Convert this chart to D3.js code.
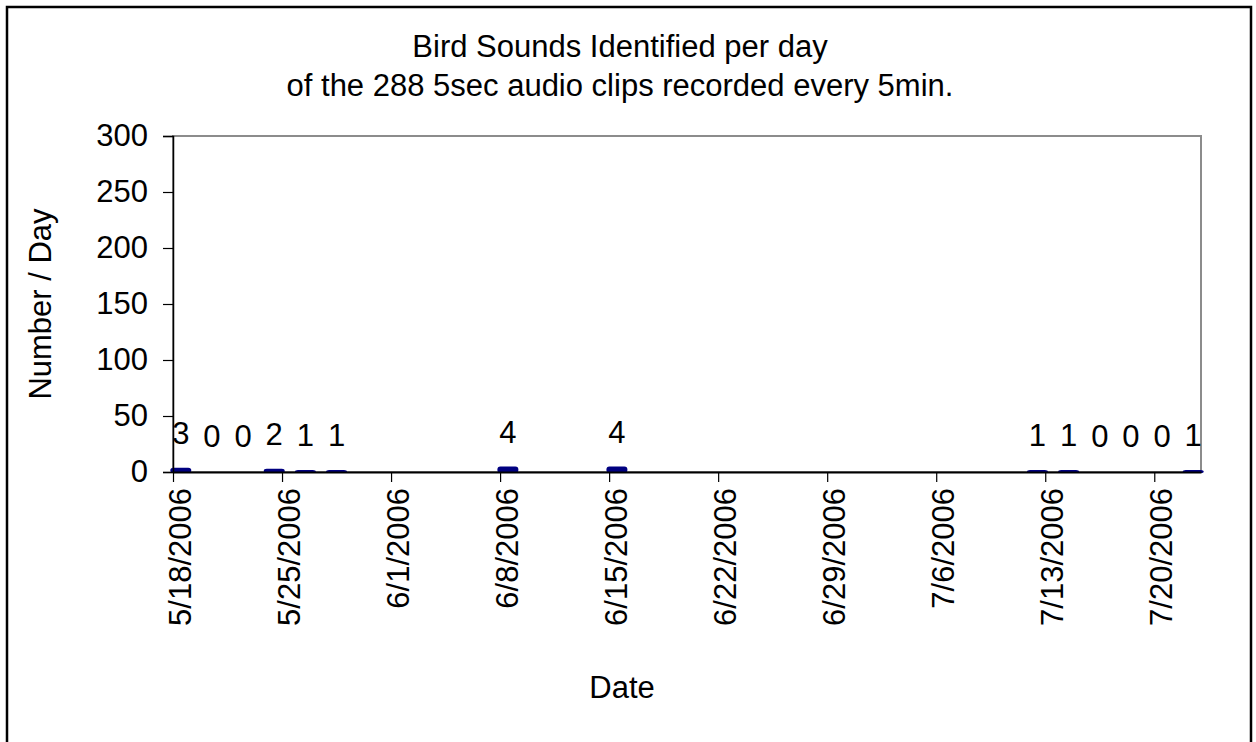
<!DOCTYPE html>
<html>
<head>
<meta charset="utf-8">
<script src="https://cdn.jsdelivr.net/npm/d3@7/dist/d3.min.js"></script>
<style>
  html, body { margin: 0; padding: 0; background: #fff; }
  svg { display: block; }
  text { font-family: Arial, "Liberation Sans", sans-serif; fill: #000; }
</style>
</head>
<body>
<svg id="chart" width="1256" height="742"></svg>
<script>
// ---- Data ----
const dates = ["2006-05-18","2006-05-20","2006-05-22","2006-05-24","2006-05-26","2006-05-28",
               "2006-06-08","2006-06-15",
               "2006-07-12","2006-07-14","2006-07-16","2006-07-18","2006-07-20","2006-07-22"];
const counts = [3,0,0,2,1,1,4,4,1,1,0,0,0,1];
const xTickLabels = ["5/18/2006","5/25/2006","6/1/2006","6/8/2006","6/15/2006","6/22/2006",
                     "6/29/2006","7/6/2006","7/13/2006","7/20/2006"];
const yTicks = [0,50,100,150,200,250,300];
const titleLines = ["Bird Sounds Identified per day","of the 288 5sec audio clips recorded every 5min."];
const xTitle = "Date";
const yTitle = "Number / Day";

// ---- Layout ----
const svg = d3.select("#chart");
const L = 173, R = 1201, T = 136, B = 472;
const FS = 31;

const parse = d3.timeParse("%m/%d/%Y");
const parseISO = d3.timeParse("%Y-%m-%d");
const x = d3.scaleTime()
  .domain([parseISO("2006-05-18"), parseISO("2006-07-23")])
  .range([L, R]);
const y = d3.scaleLinear().domain([0, 300]).range([B, T]);
const dayW = x(parseISO("2006-05-19")) - x(parseISO("2006-05-18"));

// outer border
svg.append("rect").attr("x", 7).attr("y", 7).attr("width", 1244).attr("height", 780)
  .attr("fill", "none").attr("stroke", "#000").attr("stroke-width", 2.5);

// plot area border (grey)
svg.append("rect").attr("x", L).attr("y", T).attr("width", R - L).attr("height", B - T)
  .attr("fill", "none").attr("stroke", "#8c8c8c").attr("stroke-width", 2);

// title
const title = svg.append("text").attr("text-anchor", "middle").style("font-size", FS + "px");
titleLines.forEach((t, i) => {
  title.append("tspan").attr("x", 620).attr("y", 57 + i * 39).text(t);
});

// bars
const data = dates.map((d, i) => ({ date: parseISO(d), value: counts[i], label: String(counts[i]) }));
const barW = 19;
svg.append("g").selectAll("rect").data(data).join("rect")
  .attr("x", d => x(d.date) + dayW / 2 - barW / 2)
  .attr("y", d => y(d.value))
  .attr("width", barW)
  .attr("height", d => B - y(d.value))
  .attr("rx", 2)
  .attr("fill", "#000080")
  .attr("stroke", "#000080")
  .attr("stroke-width", 2)
  .attr("stroke-linejoin", "round");

// y axis
const yAxis = d3.axisLeft(y).tickValues(yTicks).tickSize(10).tickPadding(15);
const gy = svg.append("g").attr("transform", `translate(${L},0)`).call(yAxis);
gy.select(".domain").attr("stroke", "#000").attr("stroke-width", 1.5);
gy.selectAll(".tick line").attr("stroke", "#000").attr("stroke-width", 1.2);
gy.selectAll(".tick text").style("font-size", FS + "px")
  .style("font-family", "Arial, 'Liberation Sans', sans-serif").attr("fill", "#000");

// x axis
const tickDates = xTickLabels.map(s => parse(s));
const xAxis = d3.axisBottom(x).tickValues(tickDates).tickSize(10).tickSizeOuter(0)
  .tickFormat(d3.timeFormat("%-m/%-d/%Y"));
const gx = svg.append("g").attr("transform", `translate(0,${B})`).call(xAxis);
gx.select(".domain").attr("stroke", "#000").attr("stroke-width", 1.8);
gx.selectAll(".tick line").attr("stroke", "#000").attr("stroke-width", 1.2);
gx.selectAll(".tick text")
  .style("font-size", FS + "px")
  .style("font-family", "Arial, 'Liberation Sans', sans-serif")
  .attr("fill", "#000")
  .attr("text-anchor", "end")
  .attr("transform", "rotate(-90)")
  .attr("x", -16)
  .attr("y", 0)
  .attr("dy", "0.55em");

// value labels
svg.append("g").selectAll("text").data(data).join("text")
  .attr("x", d => x(d.date) + dayW / 2)
  .attr("y", d => y(d.value) - 25)
  .attr("text-anchor", "middle")
  .style("font-size", FS + "px")
  .text(d => d.label);

// axis titles
svg.append("text").attr("x", 622).attr("y", 698).attr("text-anchor", "middle")
  .style("font-size", FS + "px").text(xTitle);
svg.append("text").attr("transform", `translate(51,304) rotate(-90)`)
  .attr("text-anchor", "middle").style("font-size", FS + "px").text(yTitle);
</script>
</body>
</html>
